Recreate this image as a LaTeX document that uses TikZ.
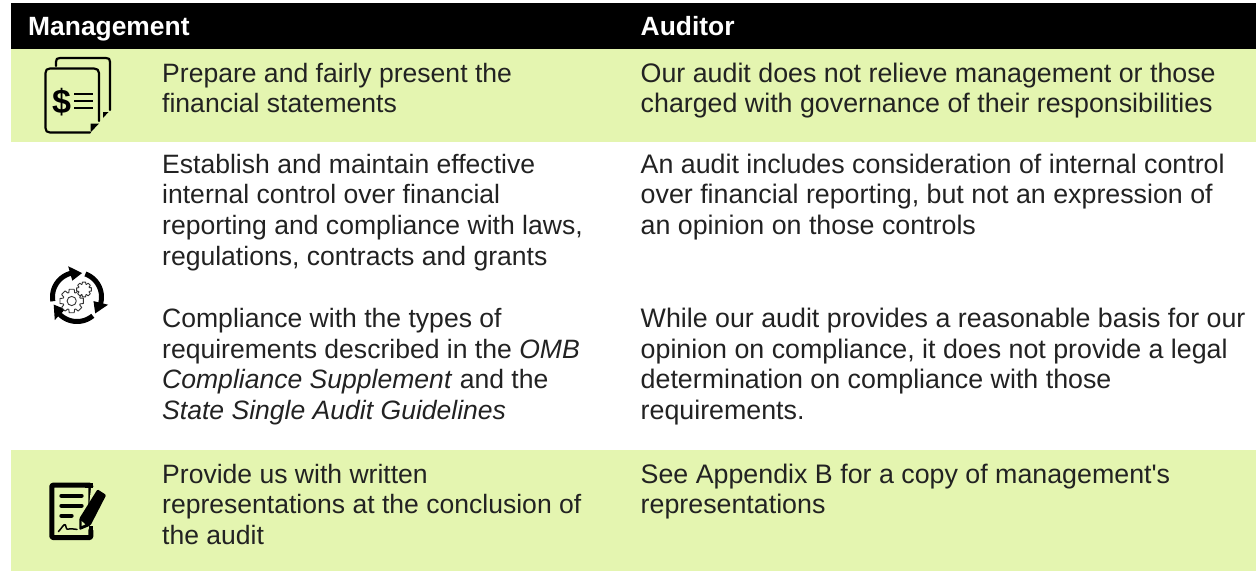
\documentclass[tikz,border=0pt]{standalone}
\usepackage{fontspec}
\setmainfont{Liberation Sans}
\definecolor{band}{HTML}{E4F5B0}
\definecolor{ink}{HTML}{222222}
\tikzset{
  x=1pt,y=-1pt,
  hd/.style={anchor=base west,inner sep=0pt,text=white,font=\fontsize{26.4}{30}\selectfont\bfseries},
  tx/.style={anchor=base west,inner sep=0pt,text=ink,font=\fontsize{26.55}{30}\selectfont},
  ty/.style={anchor=base west,inner sep=0pt,text=ink,font=\fontsize{26.8}{30}\selectfont},
  ic/.style={draw=black,line width=2.2pt,line join=round,line cap=round},
  gearline/.style={draw=black!80,line width=0.9pt,fill=white,line join=round},
  bar/.style={draw=black,line width=4.4pt,line cap=round}
}
\newcommand{\gearat}[3]{%
  \draw[gearline] ({#1+#3*cos(-14)},{#2+#3*sin(-14)})
  \foreach \a in {0,45,...,315}{
    -- ({#1+#3*cos(\a-12)},{#2+#3*sin(\a-12)})
    -- ({#1+#3*cos(\a+12)},{#2+#3*sin(\a+12)})
    -- ({#1+0.74*#3*cos(\a+19)},{#2+0.74*#3*sin(\a+19)})
    -- ({#1+0.74*#3*cos(\a+26)},{#2+0.74*#3*sin(\a+26)})
  } -- cycle;
}
\begin{document}
\begin{tikzpicture}
\useasboundingbox (0,0) rectangle (1256,571);
\fill[white] (0,0) rectangle (1256,571);
\fill[black] (11,3) rectangle (1256,49);
\fill[band] (11,49) rectangle (1256,142);
\fill[band] (11,450) rectangle (1256,571);
\node[hd] (h1) at (28,35.5) {Management};
\node[hd] (h2) at (640.5,35.5) {Auditor};
\node[tx] (a1) at (162,82) {Prepare and fairly present the};
\node[tx] (a2) at (162,112.7) {financial statements};
\node[ty] (b1) at (640.5,82) {Our audit does not relieve management or those};
\node[ty] (b2) at (640.5,112.7) {charged with governance of their responsibilities};
\node[tx] (c1) at (162,173) {Establish and maintain effective};
\node[tx] (c2) at (162,203.7) {internal control over financial};
\node[tx] (c3) at (162,234.4) {reporting and compliance with laws,};
\node[tx] (c4) at (162,265) {regulations, contracts and grants};
\node[ty] (d1) at (640.5,173) {An audit includes consideration of internal control};
\node[ty] (d2) at (640.5,203.7) {over financial reporting, but not an expression of};
\node[ty] (d3) at (640.5,234.4) {an opinion on those controls};
\node[tx] (e1) at (162,327.5) {Compliance with the types of};
\node[tx] (e2) at (162,358) {requirements described in the \textit{OMB}};
\node[tx] (e3) at (162,388.5) {\textit{Compliance Supplement} and the};
\node[tx] (e4) at (162,419) {\textit{State Single Audit Guidelines}};
\node[ty] (f1) at (640.5,327.5) {While our audit provides a reasonable basis for our};
\node[ty] (f2) at (640.5,358) {opinion on compliance, it does not provide a legal};
\node[ty] (f3) at (640.5,388.5) {determination on compliance with those};
\node[ty] (f4) at (640.5,419) {requirements.};
\node[tx] (g1) at (162,483) {Provide us with written};
\node[tx] (g2) at (162,513.5) {representations at the conclusion of};
\node[tx] (g3) at (162,544.5) {the audit};
\node[ty] (k1) at (640.5,483) {See Appendix B for a copy of management\textquotesingle s};
\node[ty] (k2) at (640.5,513.5) {representations};
% document icon
\draw[ic] (56,66) -- (56,62) .. controls (56,59) and (57,58) .. (60,58) -- (106,58) .. controls (109,58) and (110,59) .. (110,62) -- (110,110);
\fill[black] (108.5,112) -- (103,118) -- (103,112) -- cycle;
\draw[ic] (90,132.5) -- (50,132.5) .. controls (47,132.5) and (45.5,131) .. (45.5,128) -- (45.5,73) .. controls (45.5,70) and (47,68.5) .. (50,68.5) -- (94,68.5) .. controls (97,68.5) and (99,70) .. (99,73) -- (99,121);
\fill[black] (99,123.5) -- (90.5,132.5) -- (90.5,123.5) -- cycle;
\node[inner sep=0pt,font=\fontsize{34}{34}\selectfont\bfseries] (dol) at (61.5,102) {\$};
\draw[black,line width=2.3pt] (74,94) -- (93,94) (74,100.8) -- (93,100.8) (74,107.7) -- (93,107.7);
% cycle icon
\begin{scope}[shift={(77,297)}]
\foreach \s in {170,290,50}{
  \draw[black,line width=5pt] plot[domain=\s:\s+88,samples=24,variable=\t] (\t:24.5);
  \fill[black] (\s+84:32) -- (\s+112:24.5) -- (\s+84:17) -- cycle;
}
\end{scope}
\gearat{71.7}{301}{12}
\draw[gearline] (71.7,301) circle[radius=4.6];
\gearat{84}{289.5}{7.6}
% signed document icon
\draw[black,line width=5pt,rounded corners=1pt,line join=round] (51.8,485.2) rectangle (90.8,537.5);
\fill[band] (91,488) -- (100,484) -- (110,490) -- (95,530) -- (89,530) -- (87,526) -- cycle;
\draw[black,line width=4.6pt] (90.8,526) -- (90.8,537.5);
\draw[black,line width=4.6pt] (85,485.2) -- (93,485.2);
\draw[bar] (61.5,495.7) -- (81.5,495.7);
\draw[bar] (61.5,505.7) -- (81.5,505.7);
\draw[bar] (61.5,515.7) -- (71.5,515.7);
\draw[black,line width=1.5pt,line cap=round,line join=round] (58.5,531.5) .. controls (62,528) and (64,523) .. (65.5,525) .. controls (66.5,528) and (66,530) .. (69,529) .. controls (72,528) and (73,529.5) .. (77,529.3);
\fill[black,rounded corners=1.2pt] (97.5,489.3) -- (106.2,495) -- (90.5,525.5) -- (79.3,530.2) -- (79.3,518.5) -- cycle;
\fill[band] (81.6,521) -- (85.3,524.3) -- (81.6,526) -- cycle;
\end{tikzpicture}
\end{document}
